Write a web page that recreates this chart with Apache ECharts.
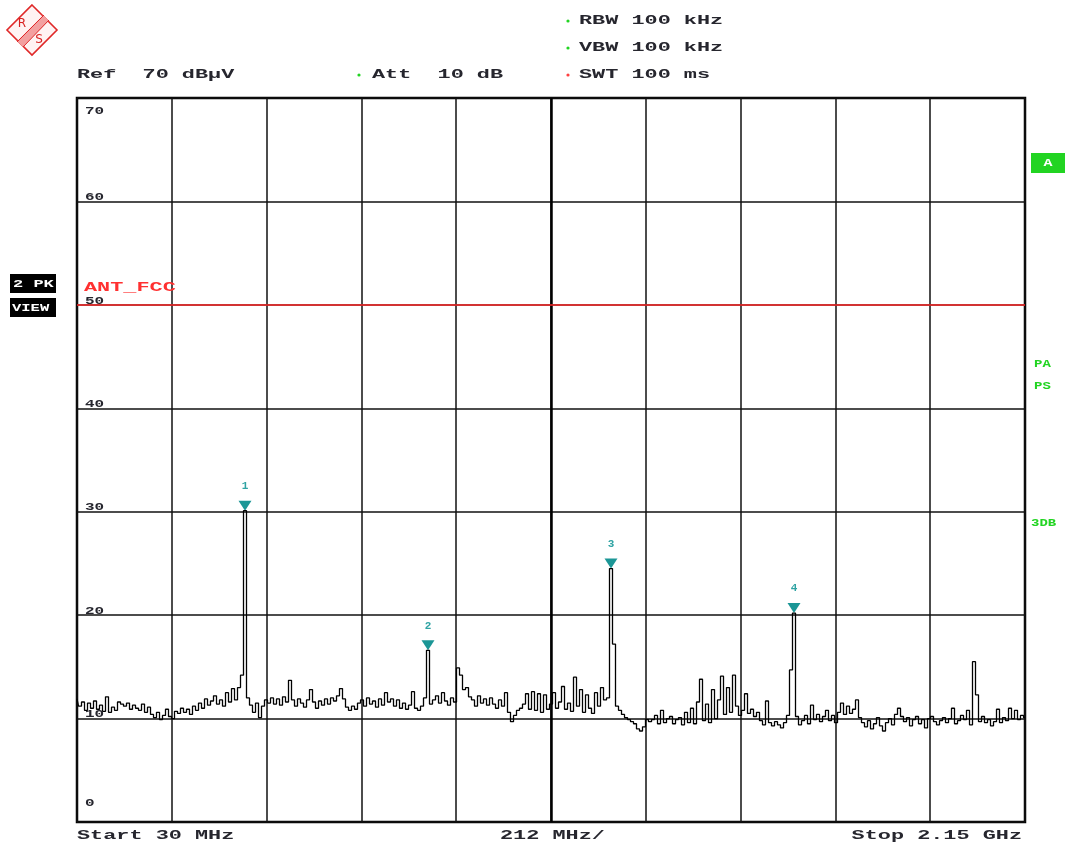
<!DOCTYPE html>
<html><head><meta charset="utf-8">
<script src="https://cdn.jsdelivr.net/npm/echarts@6/dist/echarts.min.js"></script>
<style>html,body{margin:0;padding:0;background:#fff}#c{width:1071px;height:851px}</style>
</head><body><div id="c"></div>
<script>
// ---- instrument settings ----
const startMHz = 30, stopMHz = 2150, divMHz = 212, divisions = 10;
const refLevel = 70, yMin = 0, yStep = 10;
const yTickLabels = ['0','10','20','30','40','50','60','70'];
const limitName = 'ANT_FCC', limitLevel = 50;

// ---- trace levels (dBµV), one array per horizontal division ----
const div1 = [11.9,11.2,11.6,10.8,11.5,11.0,11.7,10.9,11.3,10.7,12.1,10.6,11.1,10.8,11.6,11.4,11.2,11.5,10.9,11.3,11.0,10.8,11.4,10.6,11.1,10.4,10.1,10.6,9.9,10.3,10.9,10.2];
const div2 = [10.0,10.7,10.5,11.0,10.6,10.9,10.4,11.2,10.8,11.5,11.0,11.9,11.3,11.7,12.2,11.4,11.8,11.2,12.5,11.6,12.9,11.8,13.0,14.2,30.1,12.0,11.3,10.6,11.5,10.1,11.2,11.8];
const div3 = [11.5,12.0,11.4,11.9,11.3,12.1,11.6,13.7,11.8,11.2,11.9,11.5,11.1,11.8,12.8,11.6,11.0,11.7,11.3,11.9,11.4,12.0,11.7,12.2,12.9,11.9,11.1,10.8,11.2,10.9,11.5];
const div4 = [11.8,11.2,12.0,11.4,11.7,11.1,11.9,11.3,12.5,11.6,11.9,11.2,11.8,11.0,11.5,10.9,11.3,12.6,11.0,10.8,11.2,12.0,16.6,11.4,11.8,12.2,11.5,12.5,11.7,11.3,12.0,11.6];
const div5 = [14.9,14.2,12.8,13.0,12.1,11.8,11.2,12.2,11.5,11.9,11.3,12.0,11.4,11.0,11.8,11.2,12.5,10.6,9.7,10.3,10.8,11.0,11.4,12.4,10.9,12.6,10.8,12.4,10.6,12.3,10.9,11.4];
const div6 = [12.5,11.0,11.6,13.1,10.9,11.5,10.7,14.0,11.2,12.8,10.6,12.3,11.0,10.5,12.5,11.2,13.0,11.8,12.0,24.5,17.2,11.2,10.8,10.4,10.1,9.9,9.7,9.5,9.0,8.8,9.2,9.9];
const div7 = [9.7,9.9,10.3,9.5,10.8,9.6,10.0,10.2,9.5,9.9,10.1,9.4,10.6,9.6,11.0,9.5,11.6,13.8,9.8,11.4,9.6,12.8,10.0,11.8,14.1,10.4,13.0,10.6,14.2,11.2,10.3];
const div8 = [10.8,12.4,10.5,10.9,10.2,10.6,9.8,9.4,11.7,9.6,9.3,9.7,9.4,9.1,9.6,10.3,14.7,20.2,10.2,9.4,9.8,10.3,9.5,11.3,9.9,10.4,9.7,10.2,10.8,9.8,10.3,9.6];
const div9 = [10.6,11.5,10.4,11.2,10.5,10.9,11.8,10.1,9.6,9.2,9.8,9.0,9.5,10.1,9.3,8.8,9.6,10.0,9.4,10.4,11.0,10.2,9.7,10.1,9.3,9.9,10.2,9.5,9.9,9.1,10.0];
const div10 = [10.2,9.7,9.4,9.8,10.1,9.6,10.0,11.0,9.5,9.8,10.3,9.9,10.8,9.4,15.5,12.3,9.7,10.2,9.6,9.9,9.3,9.7,10.9,9.6,10.1,9.8,11.0,10.0,10.8,9.9,10.3,10.1];

// ---- markers ----
const markerLabels = ['1','2','3','4'];
const markerIdx = [56,117,178,239];

// ---- header / footer texts ----
const headerLeft = 'Ref  70 dBµV';
const headerAtt = 'Att  10 dB';
const headerRight = ['RBW 100 kHz','VBW 100 kHz','SWT 100 ms'];
const footer = ['Start 30 MHz','212 MHz/','Stop 2.15 GHz'];

const levels = [].concat(div1,div2,div3,div4,div5,div6,div7,div8,div9,div10);
const stepMHz = (stopMHz - startMHz) / (levels.length - 1);
const trace = levels.map((v,i) => [startMHz + i*stepMHz, v]);

const MONO = '"Liberation Mono","DejaVu Sans Mono",monospace';
const TXT = '#26262e';
const GREEN = '#22d422';

const chart = echarts.init(document.getElementById('c'), null, {renderer:'canvas'});
chart.setOption({
  animation:false,
  backgroundColor:'#ffffff',
  grid:{left:77,right:46,top:98,bottom:29,show:true,borderColor:'#000',borderWidth:2.5,backgroundColor:'#fff'},
  xAxis:[
    {type:'value',min:startMHz,max:stopMHz,show:false},
    {type:'value',min:0,max:divisions,interval:1,position:'bottom',axisLine:{show:false},axisTick:{show:false},axisLabel:{show:false},splitLine:{show:true,lineStyle:{color:'#111',width:1.5}}}
  ],
  yAxis:{type:'value',min:yMin,max:refLevel,interval:yStep,axisLine:{show:false},axisTick:{show:false},axisLabel:{show:false},splitLine:{show:true,lineStyle:{color:'#111',width:1.5}}},
  series:[
    {type:'line',xAxisIndex:0,data:trace,symbol:'none',z:5,step:'middle',
     lineStyle:{color:'#000',width:1.3},
     markLine:{silent:true,symbol:'none',animation:false,label:{show:false},
       data:[
         {xAxis:(startMHz+stopMHz)/2,lineStyle:{color:'#000',width:2.5,type:'solid'}},
         {yAxis:limitLevel,lineStyle:{color:'#ff2a2a',width:1.5,type:'solid'}}
       ]},
     markPoint:{silent:true,symbol:'triangle',symbolSize:[13,10],symbolRotate:180,symbolOffset:[0,-5],
       itemStyle:{color:'#1b9696'},
       label:{show:true,position:'top',distance:9,formatter:'{b}',color:'#2fa3a3',fontSize:11,fontWeight:'bold',fontFamily:MONO},
       data:markerIdx.map((idx,k)=>({name:markerLabels[k],coord:trace[idx]}))}
    }
  ]
});

// ---- texts and decorations ----
function txt(x,y,text,opt){
  opt = opt||{};
  return {type:'text',x:x,y:y,scaleX:opt.sx||1.68,z:opt.z||50,silent:true,
    style:{text:text,fill:opt.color||TXT,fontSize:opt.size||13,fontWeight:opt.weight||'bold',fontFamily:MONO,
      align:opt.align||'left',verticalAlign:'middle'}};
}
const g = [];
// R&S logo
g.push({type:'polygon',shape:{points:[[32,5],[57,30],[32,55],[7,30]]},style:{fill:'#fff3f3',stroke:'#e02828',lineWidth:1.6},silent:true});
g.push({type:'line',shape:{x1:46,y1:18,x2:20,y2:44},style:{stroke:'#f3a0a0',lineWidth:8},silent:true});
g.push({type:'line',shape:{x1:44,y1:15,x2:17,y2:42},style:{stroke:'#e02828',lineWidth:1},silent:true});
g.push({type:'line',shape:{x1:49,y1:20,x2:23,y2:47},style:{stroke:'#e02828',lineWidth:1},silent:true});
g.push({type:'text',x:22,y:24,style:{text:'R',fill:'#d82020',fontSize:12,fontFamily:'"DejaVu Sans",sans-serif',align:'center',verticalAlign:'middle'},silent:true});
g.push({type:'text',x:39,y:40,style:{text:'S',fill:'#d82020',fontSize:12,fontFamily:'"DejaVu Sans",sans-serif',align:'center',verticalAlign:'middle'},silent:true});

// header
g.push(txt(77,75,headerLeft));
g.push({type:'circle',shape:{cx:359,cy:75,r:1.6},style:{fill:GREEN},silent:true});
g.push(txt(372,75,headerAtt));
const dotCol = [GREEN,GREEN,'#ff4040'];
headerRight.forEach((s,k)=>{
  const y = 21 + k*27;
  g.push({type:'circle',shape:{cx:568,cy:y,r:1.6},style:{fill:dotCol[k]},silent:true});
  g.push(txt(579,y,s));
});
// footer
g.push(txt(77,836,footer[0]));
g.push(txt(500,836,footer[1]));
g.push(txt(1022,836,footer[2],{align:'right'}));

// left boxes
g.push({type:'rect',shape:{x:10,y:274,width:46,height:19},style:{fill:'#000'},silent:true});
g.push(txt(13,284,'2 PK',{color:'#fff',size:10,sx:1.7,z:60}));
g.push({type:'rect',shape:{x:10,y:298,width:46,height:19},style:{fill:'#000'},silent:true});
g.push(txt(12,308,'VIEW',{color:'#fff',size:10,sx:1.55,z:60}));

// right side indicators
g.push({type:'rect',shape:{x:1031,y:153,width:34,height:20},style:{fill:GREEN},silent:true});
g.push(txt(1048,163,'A',{color:'#fff',size:10,sx:1.5,align:'center',z:60}));
g.push(txt(1034,364,'PA',{color:GREEN,size:10,sx:1.4}));
g.push(txt(1034,386,'PS',{color:GREEN,size:10,sx:1.4}));
g.push(txt(1031,523,'3DB',{color:GREEN,size:10,sx:1.4}));

// y tick labels inside plot
yTickLabels.forEach((lab,k)=>{
  const v = yMin + k*yStep;
  const py = chart.convertToPixel({yAxisIndex:0}, v);
  let y = py - 4;
  if (v === refLevel) y = py + 13;
  if (v === yMin) y = py - 19;
  g.push(txt(85,y,lab,{size:11,sx:1.45,z:40}));
});
// limit line label
const ly = chart.convertToPixel({yAxisIndex:0}, limitLevel);
g.push(txt(84,ly-17,limitName,{color:'#ff3030',sx:1.68}));

chart.setOption({graphic:g});
</script></body></html>
